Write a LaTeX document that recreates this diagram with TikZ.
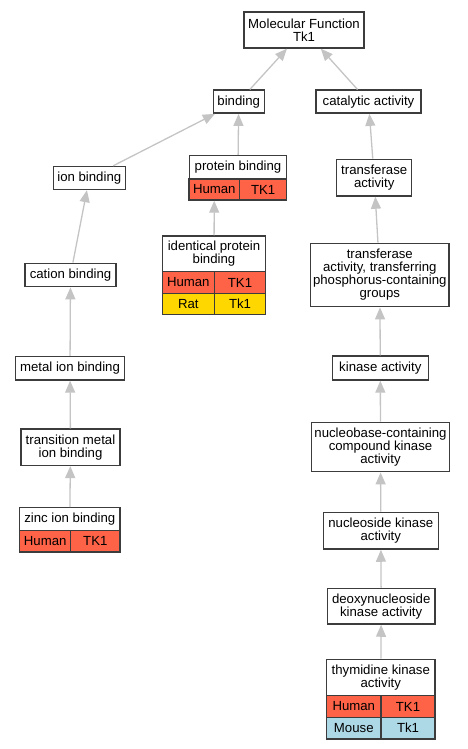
\documentclass[tikz,border=0pt]{standalone}
\usepackage{fontspec}
\setmainfont{Liberation Sans}
\usetikzlibrary{arrows.meta}
\definecolor{bord}{HTML}{3C3C3C}
\definecolor{edgec}{HTML}{C4C4C4}
\definecolor{human}{HTML}{FF6347}
\definecolor{rat}{HTML}{FFD700}
\definecolor{mouse}{HTML}{ADD8E6}
\newcommand{\fs}{\fontsize{13.2}{13}\selectfont}
\tikzset{
  box/.style={draw=bord, line width=1.4pt, fill=white, inner sep=0pt, align=center, font=\fs, text=black},
  hcell/.style={box, fill=human},
  rcell/.style={box, fill=rat},
  mcell/.style={box, fill=mouse},
  edge/.style={draw=edgec, line width=1.3pt, -{Triangle[width=10pt,length=12pt,fill=edgec]}}
}
\begin{document}
\begin{tikzpicture}[x=1pt,y=-1pt]
\useasboundingbox (0,0) rectangle (467,749);
% top
\node[box, minimum width=120pt, minimum height=36pt] (mf) at (304,30) {Molecular Function\\Tk1};
\node[box, minimum width=51pt, minimum height=23pt] (bind) at (238.7,101.7) {binding};
\node[box, minimum width=105pt, minimum height=23pt] (cat) at (368.5,101.7) {catalytic activity};
% left branch
\node[box, minimum width=72pt, minimum height=23pt] (ion) at (89.3,178) {ion binding};
\node[box, minimum width=91pt, minimum height=23.4pt] (cation) at (70.5,275) {cation binding};
\node[box, minimum width=108.6pt, minimum height=23.3pt] (metal) at (70,368.3) {metal ion binding};
\node[box, minimum width=99pt, minimum height=36.3pt] (trans) at (70.5,447.2) {transition metal\\ion binding};
\node[box, minimum width=100.3pt, minimum height=23pt] (zinc) at (69.8,519.2) {zinc ion binding};
\node[hcell, minimum width=51pt, minimum height=21.3pt] (zincH) at (45.2,541.3) {Human};
\node[hcell, minimum width=49.3pt, minimum height=21.3pt] (zincT) at (95.3,541.3) {TK1};
% middle branch
\node[box, minimum width=97.5pt, minimum height=23.5pt] (pb) at (238,167.3) {protein binding};
\node[hcell, minimum width=50.7pt, minimum height=21pt] (pbH) at (214.3,189.5) {Human};
\node[hcell, minimum width=47pt, minimum height=21pt] (pbT) at (263.2,189.5) {TK1};
\node[box, minimum width=103.4pt, minimum height=35.7pt] (ipb) at (214,253.8) {identical protein\\binding};
\node[hcell, minimum width=52pt, minimum height=21.6pt] (ipbH) at (188.3,282.5) {Human};
\node[hcell, minimum width=51.4pt, minimum height=21.6pt] (ipbT) at (240,282.5) {TK1};
\node[rcell, minimum width=52pt, minimum height=21.4pt] (ipbR) at (188.3,304) {Rat};
\node[rcell, minimum width=51.4pt, minimum height=21.4pt] (ipbRT) at (240,304) {Tk1};
% right branch
\node[box, minimum width=75pt, minimum height=36.7pt] (tf) at (374.2,177.7) {transferase\\activity};
\node[box, minimum width=138.3pt, minimum height=63.4pt] (tfp) at (379.8,275) {transferase\\activity, transferring\\phosphorus-containing\\groups};
\node[box, minimum width=96pt, minimum height=24pt] (kin) at (380.3,368) {kinase activity};
\node[box, minimum width=137.6pt, minimum height=49.4pt] (nbc) at (380.5,447) {nucleobase-containing\\compound kinase\\activity};
\node[box, minimum width=115pt, minimum height=36.7pt] (nsk) at (380.8,530.7) {nucleoside kinase\\activity};
\node[box, minimum width=107.7pt, minimum height=35.7pt] (dnk) at (381.2,606.2) {deoxynucleoside\\kinase activity};
\node[box, minimum width=108.3pt, minimum height=36.4pt] (tk) at (380.8,677.5) {thymidine kinase\\activity};
\node[hcell, minimum width=54.3pt, minimum height=21.6pt] (tkH) at (353.8,706.5) {Human};
\node[hcell, minimum width=54pt, minimum height=21.6pt] (tkT) at (408,706.5) {TK1};
\node[mcell, minimum width=54.3pt, minimum height=21.7pt] (tkM) at (353.8,728.2) {Mouse};
\node[mcell, minimum width=54pt, minimum height=21.7pt] (tkMT) at (408,728.2) {Tk1};
% edges
\draw[edge] (bind) -- (mf);
\draw[edge] (cat) -- (mf);
\draw[edge] (ion) -- (bind);
\draw[edge] (pb) -- (bind);
\draw[edge] (cation) -- (ion);
\draw[edge] (metal) -- (cation);
\draw[edge] (trans) -- (metal);
\draw[edge] (zinc) -- (trans);
\draw[edge] (ipb) -- (pbH);
\draw[edge] (tf) -- (cat);
\draw[edge] (tfp) -- (tf);
\draw[edge] (kin) -- (tfp);
\draw[edge] (nbc) -- (kin);
\draw[edge] (nsk) -- (nbc);
\draw[edge] (dnk) -- (nsk);
\draw[edge] (tk) -- (dnk);
\end{tikzpicture}
\end{document}
